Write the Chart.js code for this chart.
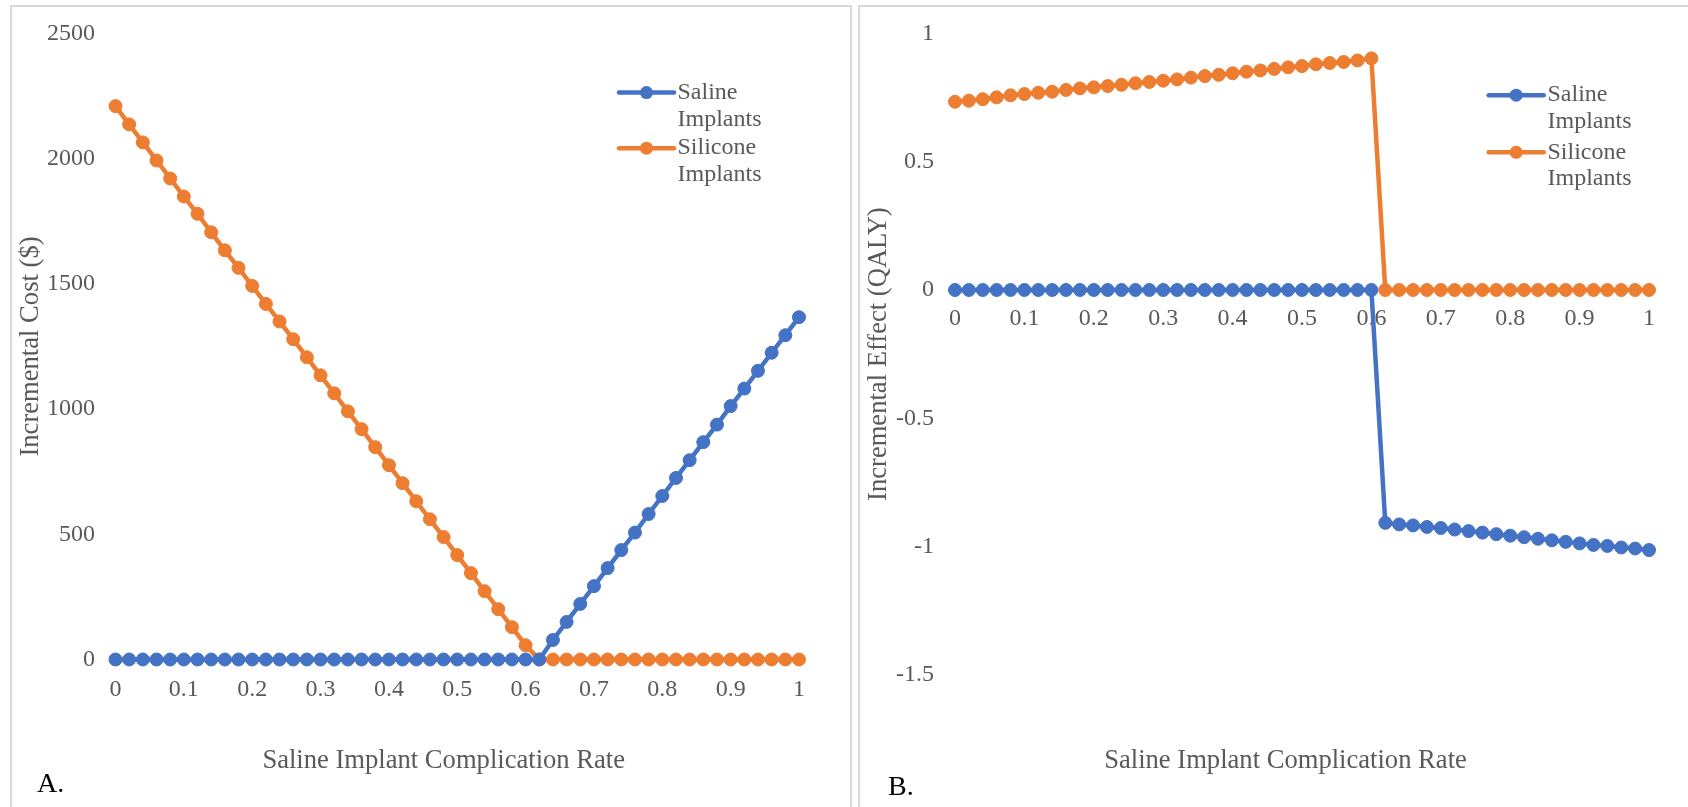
<!DOCTYPE html>
<html>
<head>
<meta charset="utf-8">
<script src="https://cdn.jsdelivr.net/npm/chart.js@4/dist/chart.umd.min.js"></script>
<style>
  html, body { margin: 0; padding: 0; background: #ffffff; width: 1688px; height: 807px; overflow: hidden; }
  .frame { position: absolute; box-sizing: border-box; border: 2px solid #d9d9d9; }
  #frameA { left: 10px; top: 5px; width: 842px; height: 820px; }
  #frameB { left: 858px; top: 5px; width: 900px; height: 820px; }
  canvas { position: absolute; }
  #chartA { left: 12px; top: 7px; }
  #chartB { left: 860px; top: 7px; }
</style>
</head>
<body>
<div class="frame" id="frameA"></div>
<div class="frame" id="frameB"></div>
<canvas id="chartA" width="838" height="800"></canvas>
<canvas id="chartB" width="828" height="800"></canvas>
<script>
// ---------------- DATA ----------------
const rates = [0, 0.02, 0.04, 0.06, 0.08, 0.1, 0.12, 0.14, 0.16, 0.18,
  0.2, 0.22, 0.24, 0.26, 0.28, 0.3, 0.32, 0.34, 0.36, 0.38,
  0.4, 0.42, 0.44, 0.46, 0.48, 0.5, 0.52, 0.54, 0.56, 0.58,
  0.6, 0.62, 0.64, 0.66, 0.68, 0.7, 0.72, 0.74, 0.76, 0.78,
  0.8, 0.82, 0.84, 0.86, 0.88, 0.9, 0.92, 0.94, 0.96, 0.98, 1];

const seriesNames = ['Saline Implants', 'Silicone Implants'];

// Panel A: incremental cost ($)
const costSaline = [0, 0, 0, 0, 0, 0, 0, 0, 0, 0,
  0, 0, 0, 0, 0, 0, 0, 0, 0, 0,
  0, 0, 0, 0, 0, 0, 0, 0, 0, 0,
  0, 0, 78, 150, 222, 293, 365, 437, 507, 581,
  653, 725, 796, 868, 938, 1012, 1082, 1153, 1225, 1295, 1367];
const costSilicone = [2210, 2137, 2065, 1993, 1921, 1849, 1780, 1706, 1634, 1564,
  1492, 1420, 1350, 1279, 1207, 1135, 1063, 991, 920, 848,
  776, 704, 632, 560, 489, 417, 345, 273, 201, 129,
  57, 0, 0, 0, 0, 0, 0, 0, 0, 0,
  0, 0, 0, 0, 0, 0, 0, 0, 0, 0, 0];

// Panel B: incremental effect (QALY)
const effectSaline = [0, 0, 0, 0, 0, 0, 0, 0, 0, 0,
  0, 0, 0, 0, 0, 0, 0, 0, 0, 0,
  0, 0, 0, 0, 0, 0, 0, 0, 0, 0,
  0, -0.908, -0.914, -0.918, -0.924, -0.928, -0.934, -0.940, -0.946, -0.952,
  -0.958, -0.964, -0.970, -0.976, -0.982, -0.988, -0.994, -0.998, -1.004, -1.008, -1.014];
const effectSilicone = [0.734, 0.738, 0.744, 0.751, 0.759, 0.764, 0.769, 0.773, 0.780, 0.786,
  0.790, 0.795, 0.800, 0.806, 0.811, 0.816, 0.821, 0.828, 0.834, 0.839,
  0.845, 0.851, 0.856, 0.862, 0.868, 0.873, 0.880, 0.885, 0.889, 0.895,
  0.903, 0, 0, 0, 0, 0, 0, 0, 0, 0,
  0, 0, 0, 0, 0, 0, 0, 0, 0, 0, 0];

const xTickLabels = ['0', '0.1', '0.2', '0.3', '0.4', '0.5', '0.6', '0.7', '0.8', '0.9', '1'];
const yTickLabelsA = ['0', '500', '1000', '1500', '2000', '2500'];
const yTickLabelsB = ['-1.5', '-1', '-0.5', '0', '0.5', '1'];

const xTitle = 'Saline Implant Complication Rate';
const yTitleA = 'Incremental Cost ($)';
const yTitleB = 'Incremental Effect (QALY)';

// ---------------- STYLE ----------------
const FONT = "'Liberation Serif', 'Times New Roman', serif";
const GREY = '#595959';
const BLUE = '#4472C4';
const ORANGE = '#ED7D31';

function makeDataset(label, values, color) {
  return {
    label: label,
    data: rates.map((r, i) => ({ x: r, y: values[i] })),
    borderColor: color,
    backgroundColor: color,
    pointBackgroundColor: color,
    pointBorderColor: color,
    borderWidth: 4.5,
    pointRadius: 6.5,
    pointHoverRadius: 6.5,
    pointBorderWidth: 1,
    tension: 0,
    clip: false
  };
}

const panelDecor = {
  id: 'panelDecor',
  afterDraw(chart, args, opts) {
    const ctx = chart.ctx;
    ctx.save();
    const L = opts.legend;
    chart.data.datasets.forEach((ds, i) => {
      const y = L.y + i * L.itemGap;
      ctx.strokeStyle = ds.borderColor;
      ctx.lineWidth = ds.borderWidth;
      ctx.lineCap = 'round';
      ctx.beginPath();
      ctx.moveTo(L.x0, y);
      ctx.lineTo(L.x1, y);
      ctx.stroke();
      ctx.fillStyle = ds.pointBackgroundColor;
      ctx.beginPath();
      ctx.arc((L.x0 + L.x1) / 2, y, ds.pointRadius, 0, Math.PI * 2);
      ctx.fill();
      ctx.fillStyle = GREY;
      ctx.font = '24px ' + FONT;
      ctx.textAlign = 'left';
      ctx.textBaseline = 'middle';
      ds.label.split(' ').forEach((w, j) => ctx.fillText(w, L.textX, y + j * L.lineGap));
    });
    // x-axis title
    ctx.fillStyle = GREY;
    ctx.font = '26.6px ' + FONT;
    ctx.textAlign = 'center';
    ctx.textBaseline = 'middle';
    ctx.fillText(opts.xTitle.text, opts.xTitle.x, opts.xTitle.y);
    // panel label
    ctx.fillStyle = '#000000';
    ctx.font = '28px ' + FONT;
    ctx.textAlign = 'left';
    ctx.textBaseline = 'alphabetic';
    ctx.fillText(opts.panelLabel.text, opts.panelLabel.x, opts.panelLabel.y);
    ctx.restore();
  }
};

function makeChart(id, cfg) {
  return new Chart(document.getElementById(id), {
    type: 'line',
    data: {
      datasets: [
        makeDataset(seriesNames[0], cfg.saline, BLUE),
        makeDataset(seriesNames[1], cfg.silicone, ORANGE)
      ]
    },
    options: {
      responsive: false,
      animation: false,
      events: [],
      layout: { padding: { left: 0, top: cfg.padTop, right: cfg.padRight, bottom: cfg.padBottom } },
      plugins: {
        legend: { display: false },
        tooltip: { enabled: false },
        panelDecor: cfg.decor
      },
      scales: {
        x: {
          type: 'linear',
          position: cfg.xPosition,
          min: 0, max: 1,
          grid: { display: false, drawTicks: false, tickLength: 0 },
          border: { display: false },
          ticks: {
            stepSize: 0.1,
            padding: cfg.xTickPad,
            color: GREY,
            font: { family: FONT, size: 24 },
            maxRotation: 0,
            autoSkip: false,
            callback: (v) => xTickLabels[Math.round(v * 10)]
          },
          afterFit: (s) => { s.height = cfg.xHeight; }
        },
        y: {
          type: 'linear',
          position: 'left',
          min: cfg.yMin, max: cfg.yMax,
          grid: { display: false, drawTicks: false, tickLength: 0 },
          border: { display: false },
          ticks: {
            stepSize: cfg.yStep,
            padding: cfg.yTickPad,
            color: GREY,
            font: { family: FONT, size: 24 },
            callback: (v, i) => cfg.yLabels[i]
          },
          title: {
            display: true,
            text: cfg.yTitle,
            color: GREY,
            font: { family: FONT, size: 26.6 },
            padding: { top: cfg.yTitlePad, bottom: 0 }
          },
          afterFit: (s) => { s.width = cfg.yWidth; s.paddingTop = 0; s.paddingBottom = 0; }
        }
      }
    },
    plugins: [panelDecor]
  });
}

makeChart('chartA', {
  saline: costSaline, silicone: costSilicone,
  xPosition: 'bottom',
  padTop: 26.5, padRight: 51, padBottom: 0,
  xHeight: 147.5, xTickPad: 15.5,
  yWidth: 103.5, yTickPad: 20.5, yTitlePad: 3.5,
  yMin: 0, yMax: 2500, yStep: 500, yLabels: yTickLabelsA, yTitle: yTitleA,
  decor: {
    legend: { x0: 607, x1: 662, textX: 665.5, y: 85.6, itemGap: 55.6, lineGap: 26.8 },
    xTitle: { text: xTitle, x: 431.7, y: 753.7 },
    panelLabel: { text: 'A.', x: 25, y: 785 }
  }
});

makeChart('chartB', {
  saline: effectSaline, silicone: effectSilicone,
  xPosition: { y: 0 },
  padTop: 26.5, padRight: 39, padBottom: 132.3,
  xHeight: 0, xTickPad: 14,
  yWidth: 95, yTickPad: 21, yTitlePad: 3.4,
  yMin: -1.5, yMax: 1, yStep: 0.5, yLabels: yTickLabelsB, yTitle: yTitleB,
  decor: {
    legend: { x0: 628.7, x1: 683.7, textX: 687.5, y: 88.2, itemGap: 57.1, lineGap: 26.8 },
    xTitle: { text: xTitle, x: 425.5, y: 753.7 },
    panelLabel: { text: 'B.', x: 28, y: 788 }
  }
});
</script>
</body>
</html>
